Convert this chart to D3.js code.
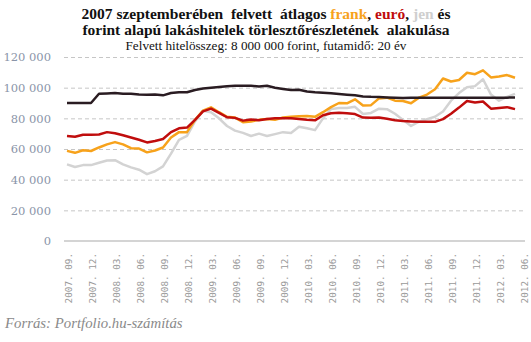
<!DOCTYPE html>
<html>
<head>
<meta charset="utf-8">
<script src="https://cdn.jsdelivr.net/npm/d3@7"></script>
<style>
  body { margin: 0; background: #fff; }
  svg { display: block; }
</style>
</head>
<body>
<div id="chart"></div>
<script>
// havi törlesztőrészletek, 2007. 09. - 2012. 05.
var months = [
  "2007-09", "2007-10", "2007-11", "2007-12", "2008-01", "2008-02", "2008-03", "2008-04",
  "2008-05", "2008-06", "2008-07", "2008-08", "2008-09", "2008-10", "2008-11", "2008-12",
  "2009-01", "2009-02", "2009-03", "2009-04", "2009-05", "2009-06", "2009-07", "2009-08",
  "2009-09", "2009-10", "2009-11", "2009-12", "2010-01", "2010-02", "2010-03", "2010-04",
  "2010-05", "2010-06", "2010-07", "2010-08", "2010-09", "2010-10", "2010-11", "2010-12",
  "2011-01", "2011-02", "2011-03", "2011-04", "2011-05", "2011-06", "2011-07", "2011-08",
  "2011-09", "2011-10", "2011-11", "2011-12", "2012-01", "2012-02", "2012-03", "2012-04",
  "2012-05", "2012-06"
];

var tickLabels = [
  ["2007-09", "2007. 09."], ["2007-12", "2007. 12."], ["2008-03", "2008. 03."], ["2008-06", "2008. 06."],
  ["2008-09", "2008. 09."], ["2008-12", "2008. 12."], ["2009-03", "2009. 03."], ["2009-06", "2009. 06."],
  ["2009-09", "2009. 09."], ["2009-12", "2009. 12."], ["2010-03", "2010. 03."], ["2010-06", "2010. 06."],
  ["2010-09", "2010. 09."], ["2010-12", "2010. 12."], ["2011-03", "2011. 03."], ["2011-06", "2011. 06."],
  ["2011-09", "2011. 09."], ["2011-12", "2011. 12."], ["2012-03", "2012. 03."], ["2012-06", "2012. 06."]
];

var yTicks = [0, 20000, 40000, 60000, 80000, 100000, 120000];

var jen = [
  50000, 48300, 49500, 49500, 51000, 52500, 52700, 50000, 48000, 46500, 43600, 45500, 48700, 57000, 66000,
  68500, 78000, 85000, 84000, 80000, 75000, 72000, 70500, 68500, 70000, 68500, 69700, 71000, 70500,
  74500, 73500, 72300, 80000, 86000, 86800, 86800, 87500, 82800, 83500, 86300, 86000, 83000, 79000,
  75000, 77800, 79500, 81000, 84500, 91500, 96500, 100300, 101000, 105500, 95500, 91500, 94000, 96000
];

var frank = [
  58800, 57500, 59200, 58700, 61000, 63000, 64500, 63000, 60500, 60300, 57800, 59000, 61000, 67500, 71000,
  71000, 79000, 85000, 87200, 84000, 81000, 80500, 77500, 78000, 79000, 79500, 79000, 80500, 81000,
  81300, 81500, 81000, 84000, 87300, 90000, 89800, 92400, 88300, 88600, 93000, 93500, 91500, 91300,
  89800, 93500, 95500, 99000, 106000, 104000, 105000, 109700, 108800, 111300, 106700, 107300, 108200, 106500
];

var euro = [
  68500, 68000, 69300, 69300, 69500, 71000, 70300, 69000, 67500, 66000, 64300, 65200, 66500, 71000, 73500,
  74000, 79000, 84500, 86300, 83500, 80700, 80300, 78500, 79200, 78800, 79500, 80000, 80000, 80000,
  79500, 79000, 78700, 82000, 83300, 83600, 83300, 82800, 80500, 80300, 80500, 79700, 78800, 78300,
  78000, 77700, 77700, 77700, 79500, 83000, 87000, 91300, 90300, 91000, 86300, 86800, 87300, 86000
];

var forint = [
  90000, 90000, 90000, 90000, 96000, 96200, 96500, 96000, 96000, 95500, 95300, 95500, 95000, 96500, 97000,
  97000, 98500, 99500, 100000, 100500, 101000, 101200, 101200, 101200, 100800, 101200, 100000, 99200, 98500,
  98700, 97500, 97000, 96700, 96300, 95800, 95400, 95000, 94300, 94000, 93900, 93600, 93400, 93300,
  93400, 93400, 93400, 93400, 93400, 93400, 93400, 93400, 93400, 93500, 93500, 93500, 93500, 93600
];

// rajzolási sorrend: a szürke alul, a forint felül
var series = [
  { name: "jen", values: jen, color: "#d3d3d3" },
  { name: "frank", values: frank, color: "#f7a21b" },
  { name: "euró", values: euro, color: "#c00d0d" },
  { name: "forint", values: forint, color: "#2a1c22" }
];

var svgWidth = 531;
var svgHeight = 342;

var margin = { top: 57, right: 6, bottom: 101, left: 64 };
var width = svgWidth - margin.left - margin.right;
var height = svgHeight - margin.top - margin.bottom;

var svg = d3.select("#chart")
  .append("svg")
  .attr("width", svgWidth)
  .attr("height", svgHeight);

// title
var title = svg.append("text")
  .attr("text-anchor", "middle")
  .attr("font-family", "'Liberation Serif', serif")
  .attr("font-weight", "bold")
  .attr("font-size", 15.5)
  .attr("fill", "#111");

var line1 = title.append("tspan").attr("x", 266).attr("y", 19);
line1.append("tspan").text("2007 szeptemberében\u00a0 felvett\u00a0 átlagos ");
line1.append("tspan").attr("fill", "#f7a21b").text("frank");
line1.append("tspan").text(", ");
line1.append("tspan").attr("fill", "#c00d0d").text("euró");
line1.append("tspan").text(", ");
line1.append("tspan").attr("fill", "#cfcfcf").text("jen");
line1.append("tspan").text(" és");

title.append("tspan").attr("x", 266).attr("y", 35)
  .text("forint alapú lakáshitelek törlesztőrészletének\u00a0 alakulása");

svg.append("text")
  .attr("x", 266)
  .attr("y", 50)
  .attr("text-anchor", "middle")
  .attr("font-family", "'Liberation Serif', serif")
  .attr("font-size", 13.2)
  .attr("fill", "#111")
  .text("Felvett hitelösszeg: 8 000 000 forint, futamidő: 20 év");

var chartGroup = svg.append("g")
  .attr("transform", `translate(${margin.left}, ${margin.top})`);

var xScale = d3.scalePoint()
  .domain(months)
  .range([3, width - 2]);

var yScale = d3.scaleLinear()
  .domain([0, 120000])
  .range([height, 0]);

var huFormat = d3.formatLocale({ decimal: ",", thousands: " ", grouping: [3], currency: ["", " Ft"] }).format(",d");

// dashed grid
var grid = chartGroup.append("g")
  .call(d3.axisLeft(yScale).tickValues(yTicks.slice(1)).tickSize(-width).tickFormat(""));
grid.select(".domain").remove();
grid.selectAll(".tick line")
  .attr("stroke", "#c6c6c6")
  .attr("stroke-dasharray", "4,3");

// zero line
chartGroup.append("line")
  .attr("x1", 0)
  .attr("x2", width)
  .attr("y1", yScale(0))
  .attr("y2", yScale(0))
  .attr("stroke", "#c6c6c6")
  .attr("stroke-width", 1.5);

// y labels
var leftAxis = d3.axisLeft(yScale)
  .tickValues(yTicks)
  .tickSize(0)
  .tickPadding(13)
  .tickFormat(huFormat);

var yAxis = chartGroup.append("g").call(leftAxis);
yAxis.select(".domain").remove();
yAxis.selectAll("text")
  .attr("font-family", "'DejaVu Serif', serif")
  .attr("font-size", 11.5)
  .attr("fill", "#8a94a8");

// x labels, rotated
var xAxis = chartGroup.append("g")
  .attr("transform", `translate(0, ${height})`);

xAxis.selectAll("text")
  .data(tickLabels)
  .enter()
  .append("text")
  .attr("transform", d => `translate(${xScale(d[0]) + 2}, 12) rotate(-90)`)
  .attr("text-anchor", "end")
  .attr("dy", "0.35em")
  .attr("font-family", "'DejaVu Sans Mono', monospace")
  .attr("font-size", 9.3)
  .attr("fill", "#9a9a9a")
  .text(d => d[1]);

// series lines
var line = d3.line()
  .x((d, i) => xScale(months[i]))
  .y(d => yScale(d));

chartGroup.selectAll(".series")
  .data(series)
  .enter()
  .append("path")
  .attr("class", "series")
  .attr("d", d => line(d.values))
  .attr("fill", "none")
  .attr("stroke", d => d.color)
  .attr("stroke-width", 2.5)
  .attr("stroke-linejoin", "round");

// source
svg.append("text")
  .attr("x", 5)
  .attr("y", 328)
  .attr("font-family", "'Liberation Serif', serif")
  .attr("font-style", "italic")
  .attr("font-size", 14.8)
  .attr("fill", "#8a8a8a")
  .text("Forrás: Portfolio.hu-számítás");
</script>
</body>
</html>
